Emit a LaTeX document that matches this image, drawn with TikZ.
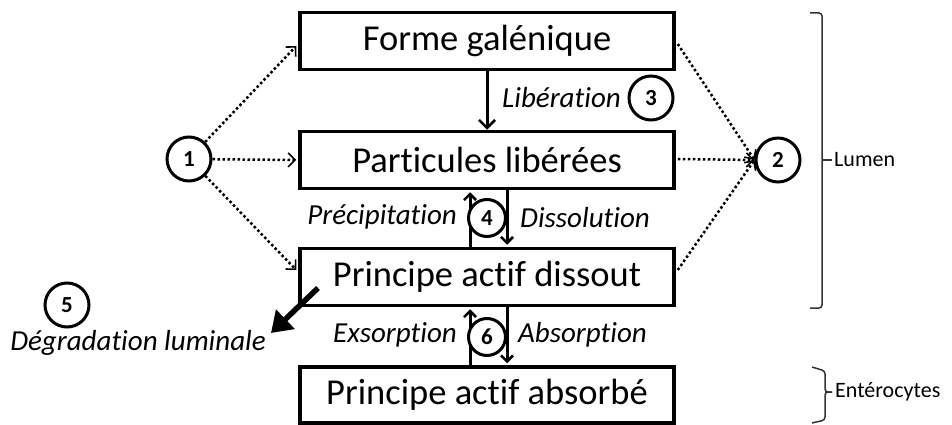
\documentclass[tikz,border=0pt]{standalone}
\usepackage{fontspec}
\setmainfont{Carlito}[RawFeature=-liga]
\usetikzlibrary{arrows.meta,calc}
\begin{document}
\begin{tikzpicture}[x=1pt,y=-1pt,
  box/.style={draw,line width=3.5pt,minimum width=374pt,minimum height=57pt,inner sep=0pt,font=\fontsize{36.5}{40}\selectfont},
  num/.style={draw,circle,line width=3pt,minimum size=44pt,inner sep=0pt,fill=white,font=\bfseries\fontsize{23}{24}\selectfont},
  smallnum/.style={num,minimum size=37pt},
  lbl/.style={font=\itshape\fontsize{29}{30}\selectfont,inner sep=0pt},
  dotarr/.style={line width=2.5pt,dash pattern=on 2.5pt off 2.5pt,-{Straight Barb[length=7pt,width=14pt,line width=1.6pt]}},
  solarr/.style={line width=3pt,-{Straight Barb[length=8pt,width=16pt,line width=2.5pt]}},
  cycarr/.style={line width=3pt,-{Straight Barb[length=6pt,width=12pt,line width=2.5pt]}},
  brk/.style={line width=1.5pt,draw=black!80,rounded corners=3pt},
  side/.style={font=\fontsize{22}{24}\selectfont,inner sep=0pt,anchor=west}]
\useasboundingbox (0,0) rectangle (952,425);
\node[box] (forme) at (487,41) {Forme galénique};
\node[box] (part) at (487,160) {Particules libérées};
\node[box] (diss) at (487,277) {Principe actif dissout};
\node[box,minimum height=56pt] (abs) at (487,395) {Principe actif absorbé};
\node[num] (c1) at (189,159) {1};
\node[num] (c2) at (778,160) {2};
\node[num] (c3) at (651,98) {3};
\node[num] (c5) at (67,305) {5};
% dotted
\draw[dotarr] (c1) -- ($(forme.west)+(-2,5)$);
\draw[dotarr] (c1) -- ($(part.west)+(-2,0)$);
\draw[dotarr] (c1) -- ($(diss.west)+(-2,-7)$);
\draw[dotarr] ($(forme.east)+(2,3)$) -- (c2.west);
\draw[dotarr] ($(part.east)+(2,-1)$) -- (c2.west);
\draw[dotarr] ($(diss.east)+(2,-7)$) -- (c2.west);
% liberation
\draw[solarr] (forme.south) -- (part.north);
\node[lbl,anchor=west] (lib) at (502,98) {Libération};
% cycle 4
\draw[cycarr] ($(diss.north)+(-17,0)$) -- ($(part.south)+(-17,2)$);
\draw[cycarr] ($(part.south)+(20,0)$) -- ($(diss.north)+(20,-2)$);
\node[smallnum] (c4) at (487,218) {4};
\node[lbl,anchor=east] (prec) at (457,217) {Précipitation};
\node[lbl,anchor=west] (dissl) at (520,218) {Dissolution};
% cycle 6
\draw[cycarr] ($(abs.north)+(-17,0)$) -- ($(diss.south)+(-17,2)$);
\draw[cycarr] ($(diss.south)+(20,0)$) -- ($(abs.north)+(20,-2)$);
\node[smallnum] (c6) at (487,337) {6};
\node[lbl,anchor=east] (exs) at (457,335) {Exsorption};
\node[lbl,anchor=west] (absl) at (518,335) {Absorption};
% degradation
\coordinate (dstart) at (318,288);
\coordinate (dtip) at (271,333);
\draw[line width=5.5pt,-{Triangle[length=20pt,width=26pt]}] (dstart) -- (dtip);
\node[lbl] (deg) at (138,343) {Dégradation luminale};
% brackets
\draw[brk] (810,13) -- (822,13) -- (822,308) -- (810,308);
\coordinate (lm) at (822,160);
\draw[line width=1.5pt,draw=black!80] (lm) -- ++(10,0);
\node[side] (lumen) at (834,160) {Lumen};
\draw[brk] (812,367) -- (825,371) -- (825,392) -- (832,392);
\draw[brk] (832,392) -- (825,392) -- (825,420) -- (812,423);
\node[side] (ent) at (835,392) {Entérocytes};
\end{tikzpicture}
\end{document}
